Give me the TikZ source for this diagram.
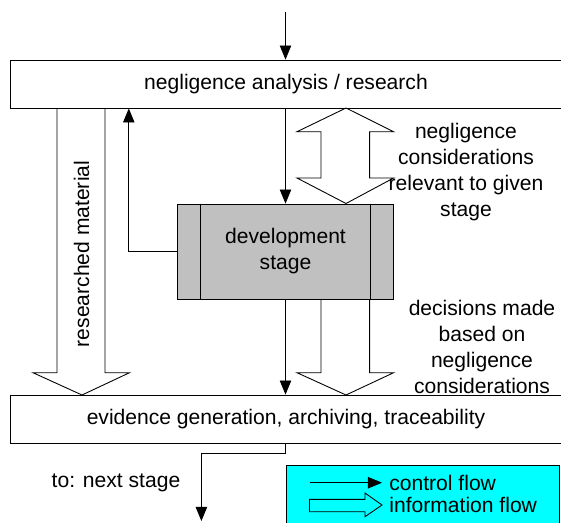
\documentclass[tikz,border=0pt]{standalone}
\usepackage{fontspec}
\setmainfont{Liberation Sans}
\usepackage{tikz}
\usepackage{xcolor}
\definecolor{stagegray}{RGB}{192,192,192}
\definecolor{legendcyan}{RGB}{0,255,255}
\tikzset{box/.style={draw=black, line width=0.5pt, minimum height=0.96cm, inner sep=0pt},
 flow/.style={line width=0.5pt, -{Triangle[length=8pt,width=6.5pt]}},
 info/.style={draw=black, line width=0.5pt},
 every node/.style={font=\fontsize{12}{14.8}\selectfont},
 }
\usetikzlibrary{arrows.meta}

\begin{document}
\begin{tikzpicture}[x=0.02cm, y=-0.02cm]
        \useasboundingbox (0,0) rectangle (561,522);
        \clip (0,0) rectangle (561,522);
        \node[box, minimum width=11.04cm] (research) at (286,84) {negligence analysis / research};
        \node[box, minimum width=11.04cm] (evidence) at (286,419) {evidence generation, archiving, traceability};
        \node[box, fill=stagegray, minimum width=4.32cm, minimum height=1.9cm, align=center] (dev) at (285.5,251.5) {development\\stage};
        \draw[line width=0.5pt] ([xshift=0.47cm]dev.north west) -- ([xshift=0.47cm]dev.south west);
        \draw[line width=0.5pt] ([xshift=-0.47cm]dev.north east) -- ([xshift=-0.47cm]dev.south east);
        \coordinate (in) at (285.5,12);
        \coordinate (out) at (201.4,521);
        \draw[flow] (in) -- (in |- research.north);
        \draw[flow] (research.south -| dev.north) -- (dev.north);
        \draw[flow] (dev.west) -| ([xshift=-0.966cm]dev.west |- research.south);
        \draw[flow] (dev.south) -- (dev.south |- evidence.north);
        \draw[flow] (evidence.south -| dev.south) -- ++(0,9.7) -| (out);
        \draw[info] (57,108) -- (57,372.7) -- (33,372.7) -- (82,395) -- (129.5,372.7) -- (105,372.7) -- (105,108);
        \draw[info] (321,178) -- (321,131.7) -- (297,131.7) -- (346,108) -- (393.6,131.7) -- (369.6,131.7)
            -- (369.6,178) -- (393.6,178) -- (346,203.5) -- (297,178) -- cycle;
        \draw[info] (321,299.3) -- (321,372.7) -- (297,372.7) -- (346,395) -- (393.6,372.7) -- (369.6,372.7) -- (369.6,299.3);
        \node[rotate=90] (material) at (81.5,254) {researched material};
        \node[align=center] (relevant) at (466,172.5) {negligence\\considerations\\relevant to given\\stage};
        \node[align=center] (decisions) at (482,347) {decisions made\\based on\\negligence\\considerations};
        \node (next) at (116,483) {to: next stage};
        \node[box, fill=legendcyan, anchor=north west, minimum width=5.48cm, minimum height=1.4cm] (legend) at (285.5,465) {};
        \coordinate (ctl) at (309.5,482.7);
        \draw[flow] (ctl) -- ++(72.5,0);
        \draw[info] (309.5,499.3) -- (365,499.3) -- (365,493) -- (382,505) -- (365,516.7) -- (365,511.7) -- (309.5,511.7) -- cycle;
        \node[anchor=west, inner sep=0pt] (ctltext) at (389,483) {control flow};
        \node[anchor=west, inner sep=0pt] (infotext) at (389,505) {information flow};
    \end{tikzpicture}
\end{document}
